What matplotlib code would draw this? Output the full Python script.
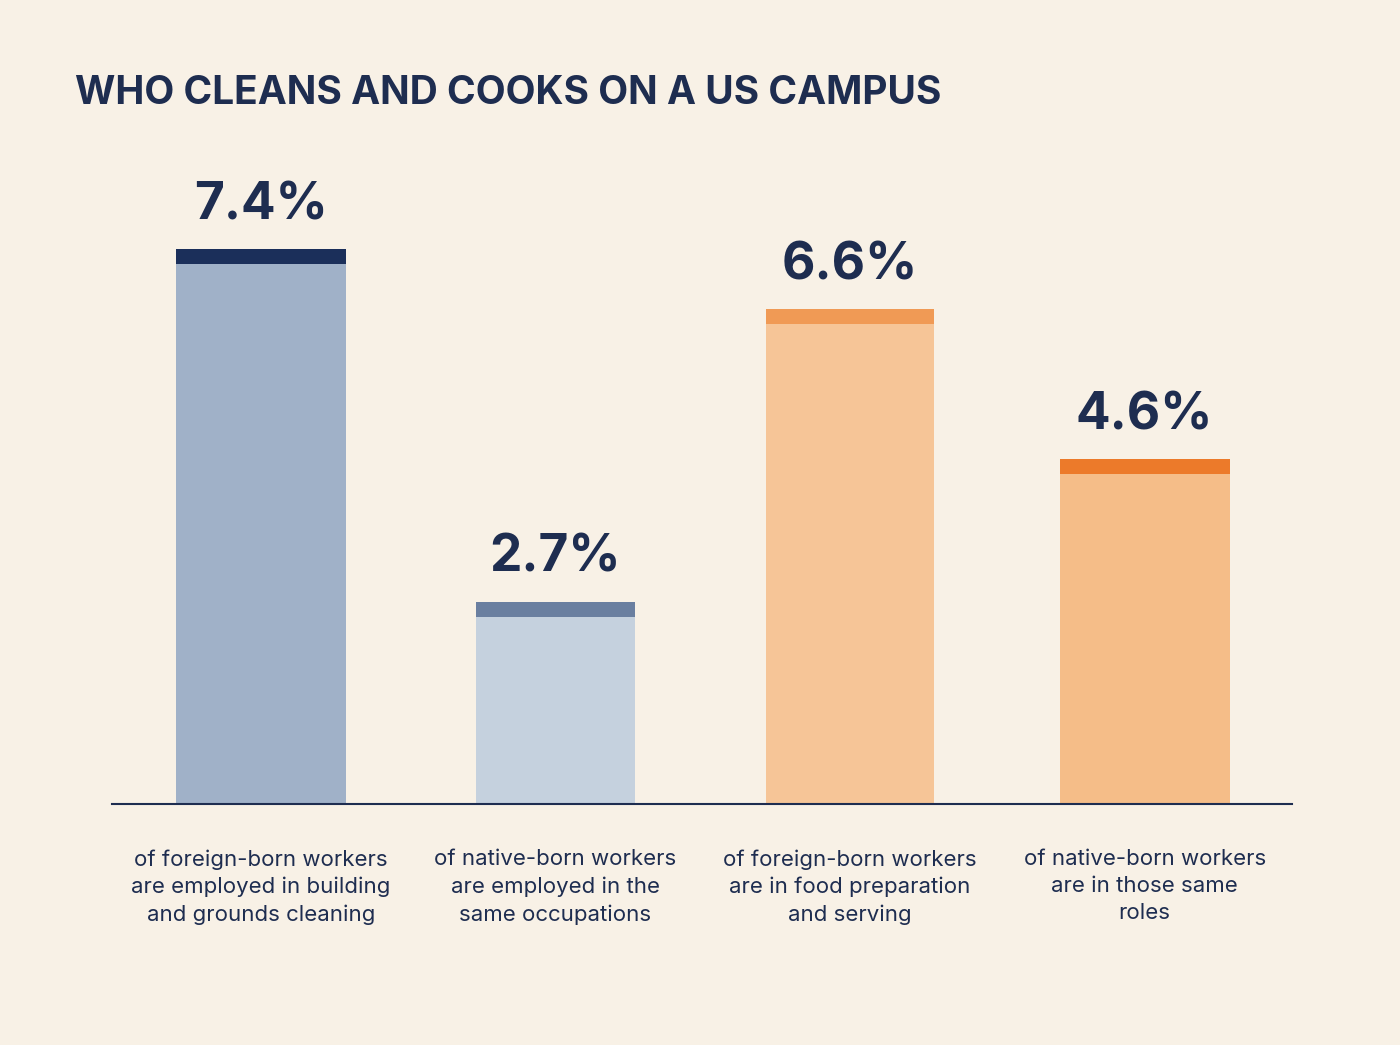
import matplotlib
matplotlib.use("Agg")
import matplotlib.pyplot as plt

categories = ["of foreign-born workers\nare employed in building\nand grounds cleaning",
              "of native-born workers\nare employed in the\nsame occupations",
              "of foreign-born workers\nare in food preparation\nand serving",
              "of native-born workers\nare in those same\nroles"]
values = [7.4, 2.7, 6.6, 4.6]
labels = ["7.4%", "2.7%", "6.6%", "4.6%"]
body_colors = ["#a0b1c8", "#c5d1de", "#f6c597", "#f5bd88"]
cap_colors = ["#1b2f5a", "#6a7fa0", "#f09a55", "#ec7a2a"]
widths = [0.576, 0.54, 0.572, 0.576]

bg = "#f8f1e6"
navy = "#1e2d50"
plt.rcParams['font.family'] = ['Inter', 'DejaVu Sans']
fig = plt.figure(figsize=(14, 10.45), dpi=100, facecolor=bg)
ax = fig.add_axes([112/1400, 1-804/1045, 1180/1400, 600/1045])
ax.set_facecolor(bg)
cap = 0.2
for i, (v, bc, cc, w) in enumerate(zip(values, body_colors, cap_colors, widths)):
    ax.bar(i, v - cap, width=w, color=bc, bottom=0)
    ax.bar(i, cap, width=w, color=cc, bottom=v - cap)
    ax.text(i, v + 0.25, labels[i], ha='center', va='bottom', fontsize=37,
            fontweight='bold', color=navy)
    ax.text(i, -0.6, categories[i], ha='center', va='top', fontsize=16,
            color=navy, linespacing=1.45)
ax.set_xlim(-0.505, 3.5)
ax.set_ylim(0, 8.0)
for s in ['top', 'right', 'left']:
    ax.spines[s].set_visible(False)
ax.spines['bottom'].set_color(navy)
ax.spines['bottom'].set_linewidth(1.5)
ax.set_xticks([]); ax.set_yticks([])
fig.text(75/1400, 1-93/1045, "WHO CLEANS AND COOKS ON A US CAMPUS", fontsize=28,
         fontweight='bold', color=navy, va='center', ha='left')
fig.savefig("out.png", facecolor=bg)
